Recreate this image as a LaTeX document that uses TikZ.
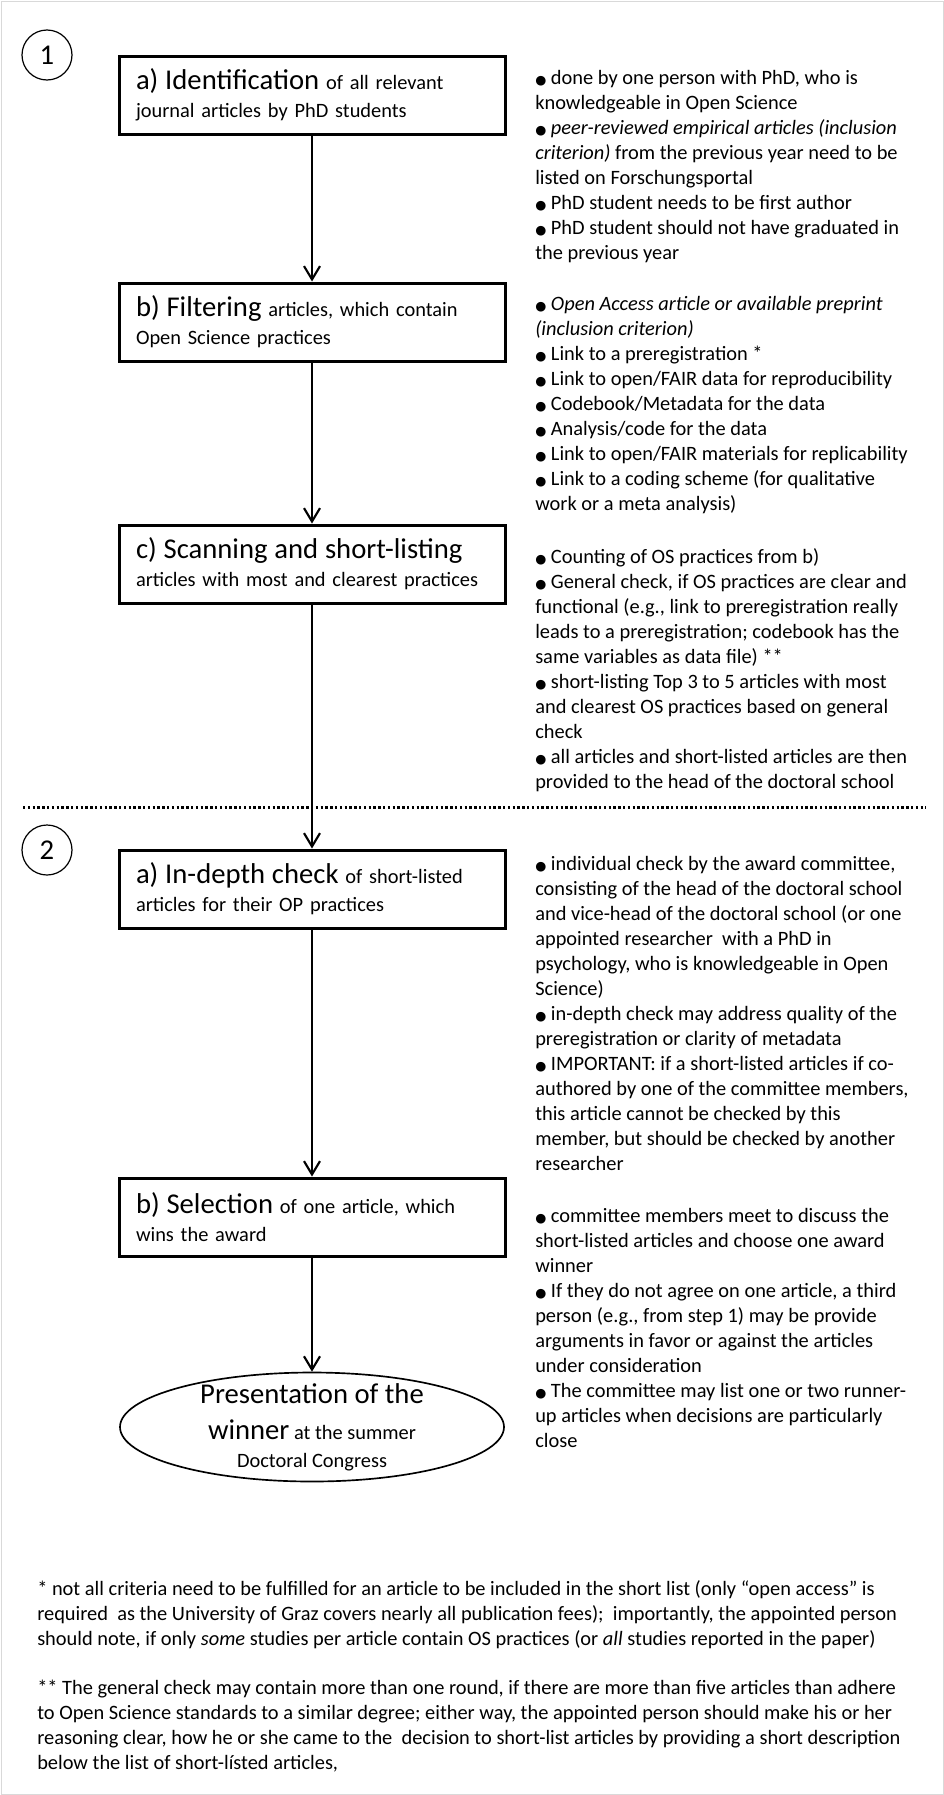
\documentclass[tikz,border=0pt]{standalone}
\usepackage{fontspec}
\setmainfont{Carlito}
\newfontfamily\bulletfont{DejaVu Sans}
\usetikzlibrary{arrows.meta,shapes.geometric}

\newcommand{\bul}{{\bulletfont\fontsize{9.5}{9.5}\selectfont ●}\ }
\newcommand{\headtxt}[1]{{\fontsize{21.5}{21}\selectfont #1}}

\begin{document}
\begin{tikzpicture}[x=0.75pt, y=-0.75pt,
    stepbox/.style={draw, rectangle, line width=2.25pt, minimum width=289.5pt, minimum height=58.5pt, text width=264pt, inner xsep=12.75pt, align=left, font=\fontsize{15.3}{21}\selectfont},
    note/.style={anchor=north west, inner sep=0pt, align=left, font=\fontsize{15.3}{18.75}\selectfont},
    stepnum/.style={draw, circle, line width=0.9pt, minimum size=37.5pt, inner sep=0pt, font=\fontsize{21.5}{21.5}\selectfont},
    flow/.style={-{Straight Barb[length=10pt,width=12pt]}, line width=1.6pt}]

    % Sfondo e cornice
    \useasboundingbox (0,0) rectangle (944,1795);
    \fill[white] (0,0) rectangle (944,1795);
    \draw[gray!30, line width=0.75pt] (1,1) rectangle (943,1794);

    % Fase 1
    \node[stepnum] (phaseone) at (47,55) {1};
    \node[stepbox] (ident) at (312,95) {\headtxt{a) Identification} of all relevant\\journal articles by PhD students};
    \node[stepbox] (filter) at (312,322) {\headtxt{b) Filtering} articles, which contain\\Open Science practices};
    \node[stepbox] (scan) at (312,564) {\headtxt{c) Scanning and short-listing}\\articles with most and clearest practices};

    \node[note] (identnote) at (535,70) {\bul done by one person with PhD, who is\\knowledgeable in Open Science\\\bul \textit{peer-reviewed empirical articles (inclusion}\\\textit{criterion)} from the previous year need to be\\listed on Forschungsportal\\\bul PhD student needs to be first author\\\bul PhD student should not have graduated in\\the previous year};
    \node[note] (filternote) at (535,296) {\bul \textit{Open Access article or available preprint}\\\textit{(inclusion criterion)}\\\bul Link to a preregistration *\\\bul Link to open/FAIR data for reproducibility\\\bul Codebook/Metadata for the data\\\bul Analysis/code for the data\\\bul Link to open/FAIR materials for replicability\\\bul Link to a coding scheme (for qualitative\\work or a meta analysis)};
    \node[note] (scannote) at (535,548) {\bul Counting of OS practices from b)\\\bul General check, if OS practices are clear and\\functional (e.g., link to preregistration really\\leads to a preregistration; codebook has the\\same variables as data file) **\\\bul short-listing Top 3 to 5 articles with most\\and clearest OS practices based on general\\check\\\bul all articles and short-listed articles are then\\provided to the head of the doctoral school};

    % Separatore
    \draw[line width=2.25pt, dash pattern=on 1.8pt off 1.8pt] (23,807) -- (926,807);

    % Fase 2
    \node[stepnum] (phasetwo) at (47,850) {2};
    \node[stepbox] (indepth) at (312,889) {\headtxt{a) In-depth check} of short-listed\\articles for their OP practices};
    \node[stepbox] (select) at (312,1217) {\headtxt{b) Selection} of one article, which\\wins the award};
    \node[draw, ellipse, line width=1.25pt, minimum width=288pt, minimum height=81.75pt, inner xsep=0pt, inner ysep=-5pt, align=center, font=\fontsize{15.3}{21}\selectfont] (present) at (312,1427) {\headtxt{Presentation of the}\\[5.8pt]\headtxt{winner} at the summer\\Doctoral Congress};

    \node[note] (indepthnote) at (535,856) {\bul individual check by the award committee,\\consisting of the head of the doctoral school\\and vice-head of the doctoral school (or one\\appointed researcher\ \ with a PhD in\\psychology, who is knowledgeable in Open\\Science)\\\bul in-depth check may address quality of the\\preregistration or clarity of metadata\\\bul IMPORTANT: if a short-listed articles if co-\\authored by one of the committee members,\\this article cannot be checked by this\\member, but should be checked by another\\researcher};
    \node[note] (selectnote) at (535,1208) {\bul committee members meet to discuss the\\short-listed articles and choose one award\\winner\\\bul If they do not agree on one article, a third\\person (e.g., from step 1) may be provide\\arguments in favor or against the articles\\under consideration\\\bul The committee may list one or two runner-\\up articles when decisions are particularly\\close};

    % Frecce
    \draw[flow] (ident) -- (filter);
    \draw[flow] (filter) -- (scan);
    \draw[flow] (scan) -- (indepth);
    \draw[flow] (indepth) -- (select);
    \draw[flow] (select) -- (present);

    % Note a pie di pagina
    \node[note] (footone) at (37,1580) {* not all criteria need to be fulfilled for an article to be included in the short list (only “open access” is\\required\ \ as the University of Graz covers nearly all publication fees);\ \ importantly, the appointed person\\should note, if only \textit{some} studies per article contain OS practices (or \textit{all} studies reported in the paper)};
    \node[note] (foottwo) at (37,1680) {** The general check may contain more than one round, if there are more than five articles than adhere\\to Open Science standards to a similar degree; either way, the appointed person should make his or her\\reasoning clear, how he or she came to the\ \ decision to short-list articles by providing a short description\\below the list of short-lísted articles,};

\end{tikzpicture}
\end{document}
